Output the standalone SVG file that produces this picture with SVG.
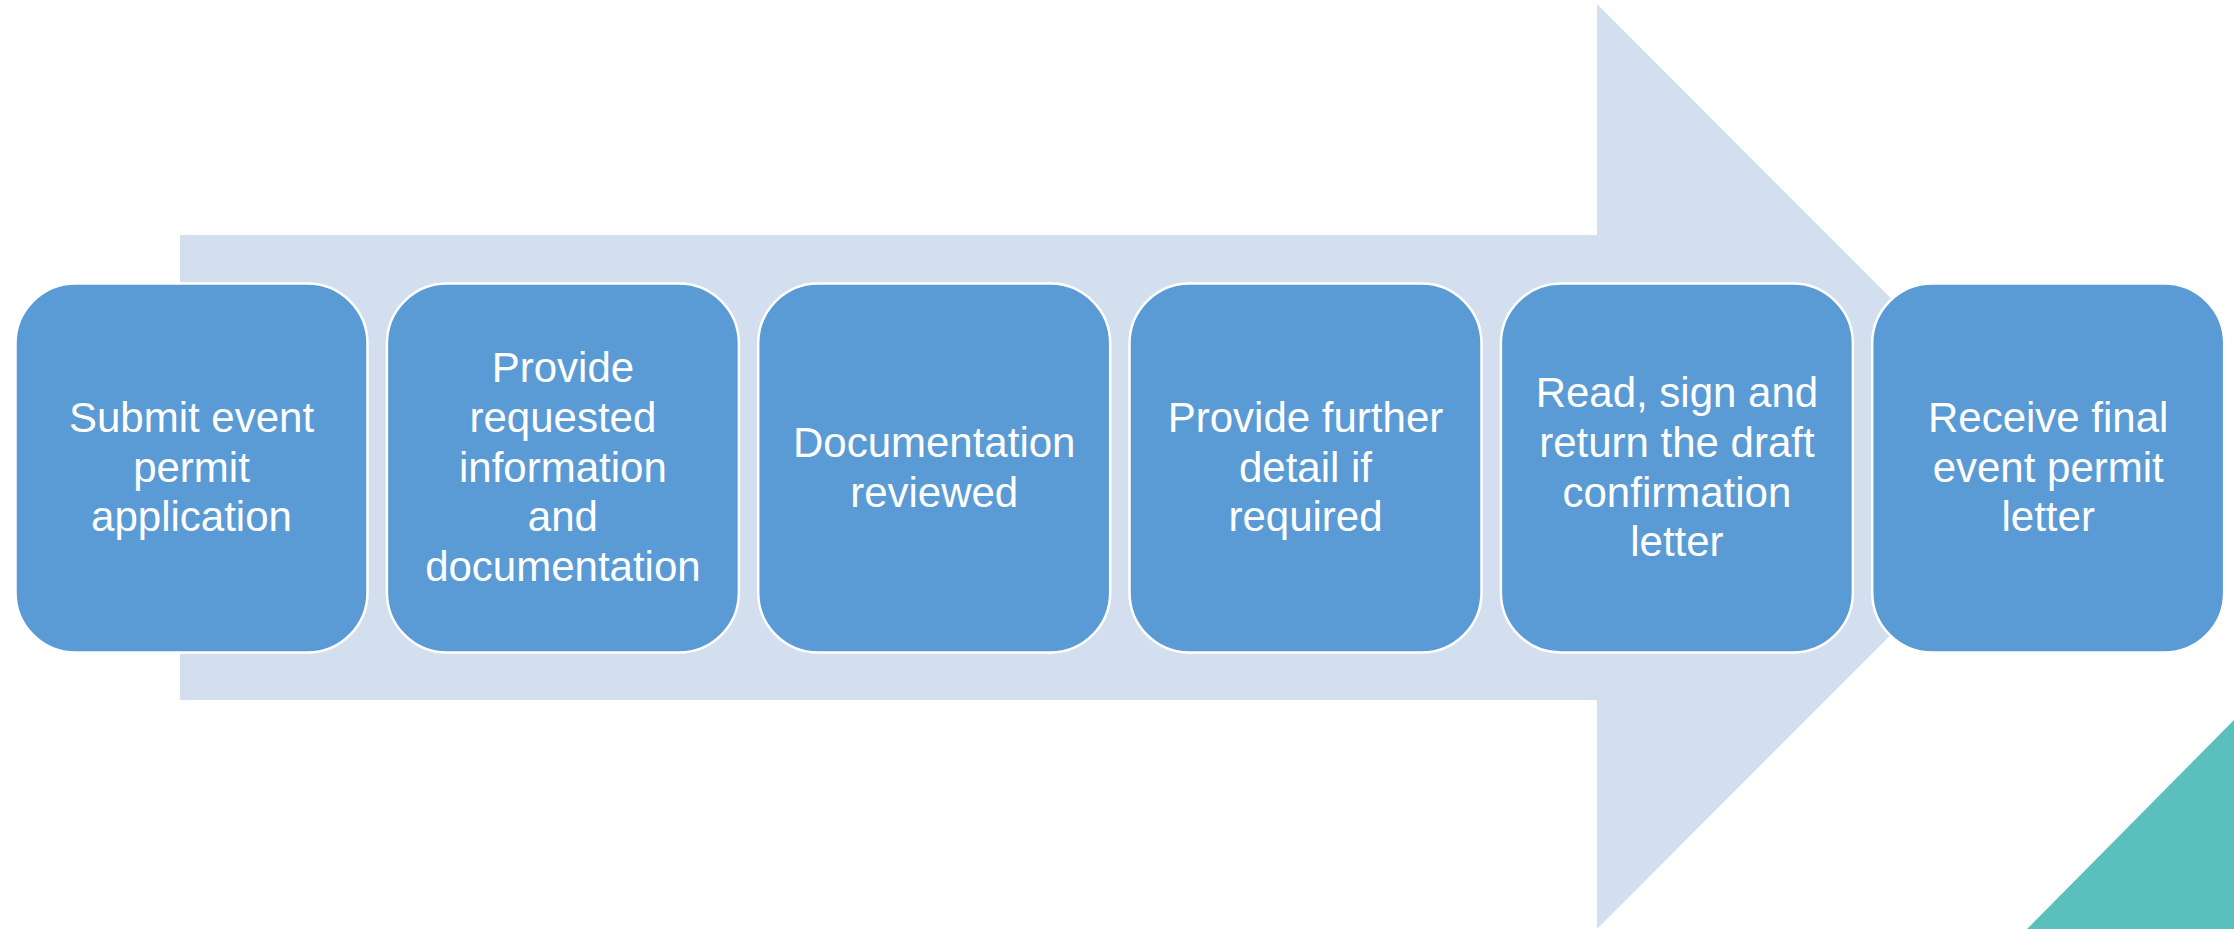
<svg xmlns="http://www.w3.org/2000/svg" width="2234" height="929" viewBox="0 0 2234 929">
<style>
.bg{fill:#ffffff}
.arrow{fill:#D3DEEF}
.box{fill:#5B9BD5;stroke:#ffffff;stroke-width:2.5}
.lbl{fill:#ffffff;font-family:"Liberation Sans",Arial,sans-serif;font-size:42px;text-anchor:middle}
.teal{fill:#5BBFBD}
</style>
<rect class="bg" x="0" y="0" width="2234" height="929"/>
<polygon class="teal" points="2027,929 2234,720 2234,929"/>
<g id="connectors">
<polygon class="arrow" points="180,235 1597,235 1597,4 2059,466.5 1597,929 1597,700 180,700"/>
</g>
<g id="n1">
<rect class="box" x="15.5" y="283.5" width="352" height="369" rx="60" ry="60"/>
<text class="lbl" x="191.5" y="432">Submit event</text>
<text class="lbl" x="191.5" y="481.7">permit</text>
<text class="lbl" x="191.5" y="531.3">application</text>
</g>
<g id="n2">
<rect class="box" x="386.9" y="283.5" width="352" height="369" rx="60" ry="60"/>
<text class="lbl" x="562.9" y="382.4">Provide</text>
<text class="lbl" x="562.9" y="432">requested</text>
<text class="lbl" x="562.9" y="481.7">information</text>
<text class="lbl" x="562.9" y="531.3">and</text>
<text class="lbl" x="562.9" y="581">documentation</text>
</g>
<g id="n3">
<rect class="box" x="758.2" y="283.5" width="352" height="369" rx="60" ry="60"/>
<text class="lbl" x="934.2" y="456.8">Documentation</text>
<text class="lbl" x="934.2" y="506.5">reviewed</text>
</g>
<g id="n4">
<rect class="box" x="1129.5" y="283.5" width="352" height="369" rx="60" ry="60"/>
<text class="lbl" x="1305.5" y="432">Provide further</text>
<text class="lbl" x="1305.5" y="481.7">detail if</text>
<text class="lbl" x="1305.5" y="531.3">required</text>
</g>
<g id="n5">
<rect class="box" x="1500.9" y="283.5" width="352" height="369" rx="60" ry="60"/>
<text class="lbl" x="1676.9" y="407.2">Read, sign and</text>
<text class="lbl" x="1676.9" y="456.8">return the draft</text>
<text class="lbl" x="1676.9" y="506.5">confirmation</text>
<text class="lbl" x="1676.9" y="556.1">letter</text>
</g>
<g id="n6">
<rect class="box" x="1872.2" y="283.5" width="352" height="369" rx="60" ry="60"/>
<text class="lbl" x="2048.2" y="432">Receive final</text>
<text class="lbl" x="2048.2" y="481.7">event permit</text>
<text class="lbl" x="2048.2" y="531.3">letter</text>
</g>
</svg>
